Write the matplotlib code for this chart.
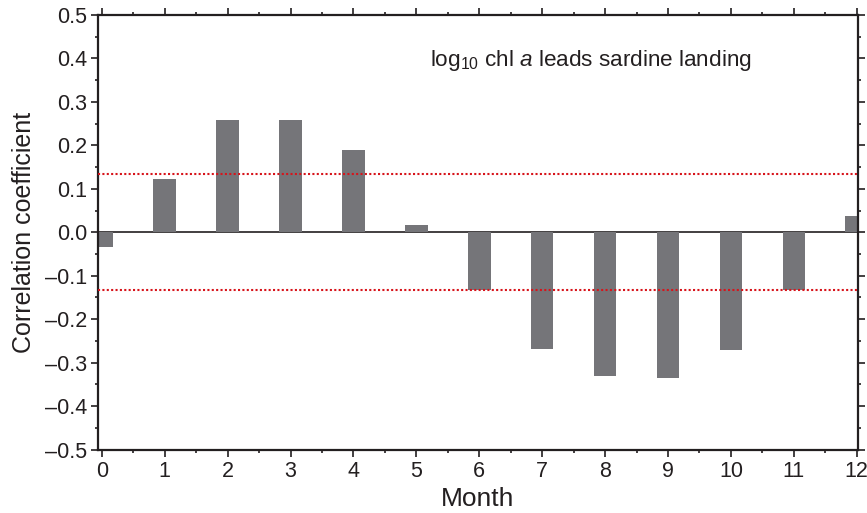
import matplotlib
matplotlib.use("Agg")
import matplotlib.pyplot as plt
from matplotlib.ticker import MultipleLocator, FuncFormatter

months = [0, 1, 2, 3, 4, 5, 6, 7, 8, 9, 10, 11, 12]
corr = [-0.034, 0.122, 0.258, 0.258, 0.189, 0.017, -0.133, -0.269, -0.331,
        -0.336, -0.272, -0.133, 0.038]
sig_level = 0.134
annotation = r"log$_{\mathregular{10}}$ chl $\mathit{a}$ leads sardine landing"

plt.rcParams['font.family'] = ['Liberation Sans', 'DejaVu Sans']
plt.rcParams['mathtext.fontset'] = 'custom'
plt.rcParams['mathtext.rm'] = 'Liberation Sans'
plt.rcParams['mathtext.it'] = 'Liberation Sans:italic'
plt.rcParams['mathtext.default'] = 'regular'

ink = '#231f20'
fig = plt.figure(figsize=(8.67, 5.13), dpi=100)
ax = fig.add_axes([98/867, 1-449.5/513, (858-98)/867, (449.5-15)/513])

ax.axhline(0, color=ink, lw=1.2, zorder=1)
ax.bar(months, corr, width=0.36, color='#757579', zorder=2)
for s in (sig_level, -sig_level):
    ax.axhline(s, color='#d7141b', lw=1.5, ls=(0, (1, 1.1)), zorder=3)

ax.set_xlim(-0.06, 12.02)
ax.set_ylim(-0.5, 0.5)
ax.xaxis.set_major_locator(MultipleLocator(1))
ax.xaxis.set_minor_locator(MultipleLocator(0.5))
ax.yaxis.set_major_locator(MultipleLocator(0.1))
ax.yaxis.set_minor_locator(MultipleLocator(0.05))

def yfmt(v, pos):
    s = f"{v:.1f}"
    if s in ("-0.0",):
        s = "0.0"
    return s.replace('-', '\u2013')
ax.yaxis.set_major_formatter(FuncFormatter(yfmt))

ax.tick_params(which='both', direction='out', top=True, right=True,
               labeltop=False, labelright=False, colors=ink, width=1.2)
ax.tick_params(which='major', length=5, labelsize=15.5, pad=3)
ax.tick_params(which='minor', length=2.5)
for sp in ax.spines.values():
    sp.set_color(ink)
    sp.set_linewidth(1.6)

ax.set_xlabel('Month', fontsize=19, color=ink, labelpad=4)
ax.set_ylabel('Correlation coefficient', fontsize=18, color=ink, labelpad=6)

ax.text(5.22, 0.395, annotation, fontsize=16.2, color=ink, va='center', ha='left')

fig.savefig('out.png', dpi=100)
